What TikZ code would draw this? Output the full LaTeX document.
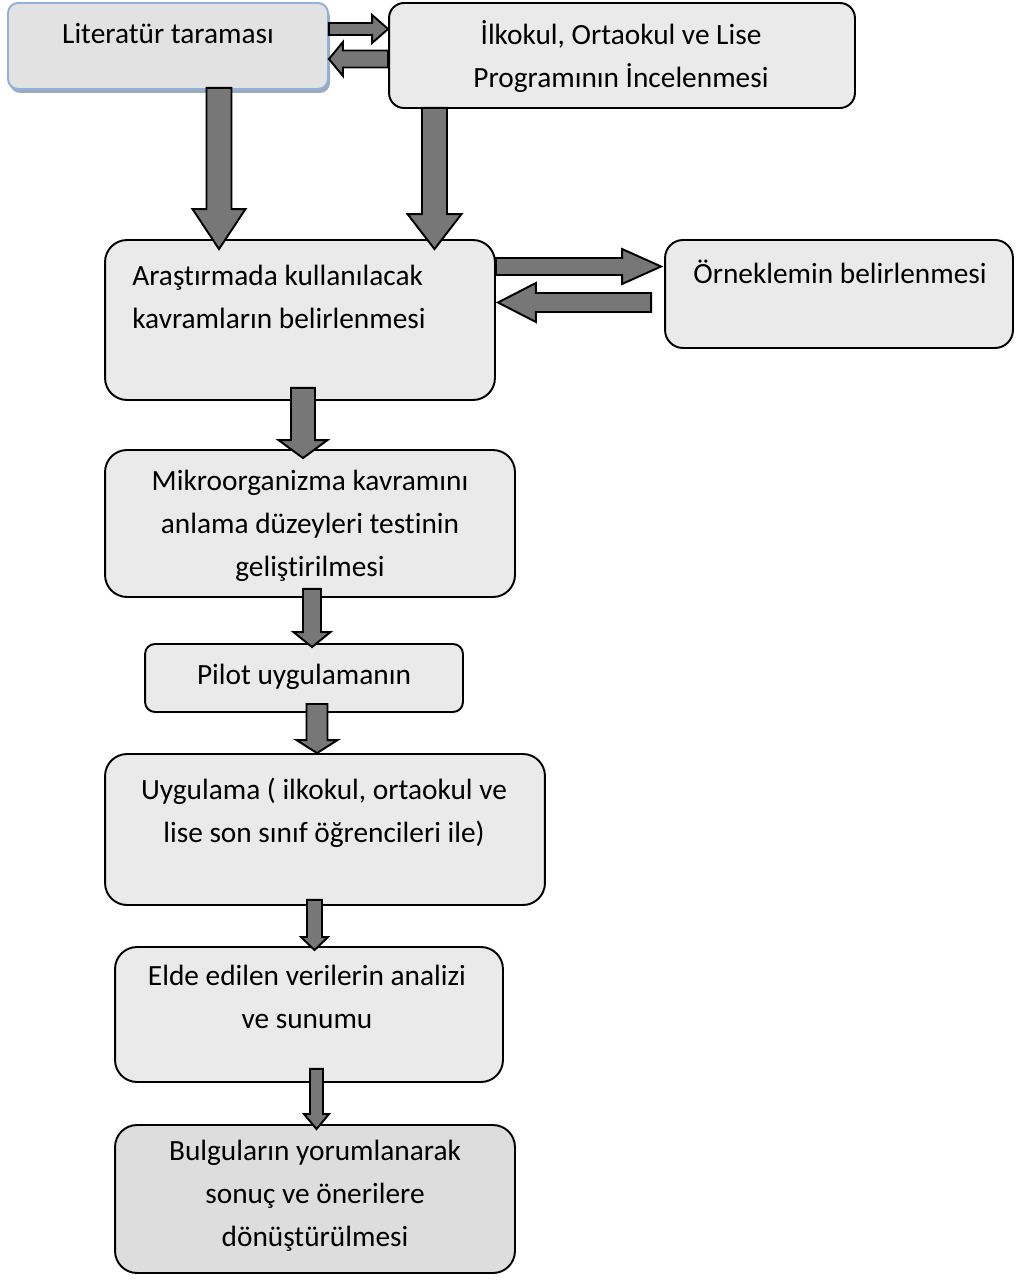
\documentclass[tikz,border=0pt]{standalone}
\usepackage{fontspec}
\setmainfont{Carlito}[Ligatures={TeX,NoCommon}]
\usetikzlibrary{calc}

\definecolor{boxfill}{HTML}{EAEAEA}
\definecolor{litfill}{HTML}{E2E2E2}
\definecolor{lastfill}{HTML}{DDDDDD}
\definecolor{litline}{HTML}{8FB0DA}
\definecolor{litshadow}{HTML}{9EA9BA}
\definecolor{arrowfill}{HTML}{777777}

\tikzset{
  stepbox/.style={draw=black, line width=1.1pt, fill=boxfill,
    rounded corners=0.44cm, inner sep=0pt},
  steptext/.style={font=\fontsize{16.7}{24.5}\selectfont, align=center,
    inner sep=0pt},
  blockarrow/.style={draw=black, line width=1.1pt, fill=arrowfill,
    line join=miter}
}

% block arrow: from, to, shaft half width, head half width, head length
\newcommand{\fatarrow}[5]{%
  \draw[blockarrow] let \p1=(#1), \p2=(#2),
      \n1={atan2(\y2-\y1,\x2-\x1)}, \n2={veclen(\x2-\x1,\y2-\y1)} in
    ($(\p1)+(\n1+90:#3)$) -- ($(\p1)+(\n1:\n2-#5)+(\n1+90:#3)$)
    -- ($(\p1)+(\n1:\n2-#5)+(\n1+90:#4)$) -- (\p2)
    -- ($(\p1)+(\n1:\n2-#5)+(\n1-90:#4)$)
    -- ($(\p1)+(\n1:\n2-#5)+(\n1-90:#3)$)
    -- ($(\p1)+(\n1-90:#3)$) -- cycle;}

\begin{document}
\begin{tikzpicture}[x=0.02cm, y=-0.02cm]
  \useasboundingbox (0,0) rectangle (1016,1284);

  % ---- the boxes ----
  \fill[litshadow, rounded corners=0.2cm] (10,7) rectangle (330,93);
  \node[stepbox, draw=litline, fill=litfill, rounded corners=0.2cm,
        minimum width=6.4cm, minimum height=1.72cm] (lit) at (168,46) {};
  \node[stepbox, rounded corners=0.3cm,
        minimum width=9.32cm, minimum height=2.1cm] (prog) at (622,55.5) {};
  \node[stepbox, minimum width=7.8cm, minimum height=3.2cm] (aras) at (300,320) {};
  \node[stepbox, rounded corners=0.36cm,
        minimum width=6.96cm, minimum height=2.16cm] (ornek) at (839,294) {};
  \node[stepbox, minimum width=8.2cm, minimum height=2.94cm] (mikro) at (310,523.5) {};
  \node[stepbox, rounded corners=0.2cm,
        minimum width=6.36cm, minimum height=1.36cm] (pilot) at (304,678) {};
  \node[stepbox, minimum width=8.8cm, minimum height=3.02cm] (uyg) at (325,829.5) {};
  \node[stepbox, minimum width=7.76cm, minimum height=2.7cm] (elde) at (309,1014.5) {};
  \node[stepbox, fill=lastfill,
        minimum width=8.0cm, minimum height=2.96cm] (bulg) at (315,1199) {};

  % ---- the texts, set near the top of their boxes ----
  \node[steptext] (lit-t) at (168,34) {Literatür taraması};
  \node[steptext] (prog-t) at (621,57)
       {İlkokul, Ortaokul ve Lise\\Programının İncelenmesi};
  \node[steptext, align=left, anchor=west] (aras-t) at (132,297)
       {Araştırmada kullanılacak\\kavramların belirlenmesi};
  \node[steptext] (ornek-t) at (840,272) {Örneklemin belirlenmesi};
  \node[steptext] (mikro-t) at (310,526)
       {Mikroorganizma kavramını\\anlama düzeyleri testinin\\geliştirilmesi};
  \node[steptext] (pilot-t) at (304,677) {Pilot uygulamanın};
  \node[steptext] (uyg-t) at (324,813)
       {Uygulama ( ilkokul, ortaokul ve\\lise son sınıf öğrencileri ile)};
  \node[steptext] (elde-t) at (307,997)
       {Elde edilen verilerin analizi\\ve sunumu};
  \node[steptext] (bulg-t) at (315,1196)
       {Bulguların yorumlanarak\\sonuç ve önerilere\\dönüştürülmesi};

  % ---- the block arrows between the boxes ----
  \fatarrow{$(lit.east)+(0,-17)$}{$(prog.west)+(0,-26.5)$}{0.12cm}{0.28cm}{0.32cm}
  \fatarrow{$(prog.west)+(0,3.5)$}{$(lit.east)+(0,13)$}{0.17cm}{0.34cm}{0.28cm}
  \fatarrow{$(lit.south)+(51,-2)$}{$(aras.north)+(-81,10)$}{0.25cm}{0.53cm}{0.8cm}
  \fatarrow{$(prog.south)+(-187.5,-1)$}{$(aras.north)+(134.5,10)$}{0.25cm}{0.54cm}{0.7cm}
  \fatarrow{$(aras.east)+(0,-53.5)$}{$(ornek.west)+(-3,-27.5)$}{0.17cm}{0.35cm}{0.78cm}
  \fatarrow{$(ornek.west)+(-13,8.5)$}{$(aras.east)+(2,-17.5)$}{0.19cm}{0.39cm}{0.76cm}
  \fatarrow{$(aras.south)+(3,-13)$}{$(mikro.north)+(-7,9)$}{0.24cm}{0.49cm}{0.36cm}
  \fatarrow{$(mikro.south)+(2,-9)$}{$(pilot.north)+(8,4)$}{0.18cm}{0.37cm}{0.3cm}
  \fatarrow{$(pilot.south)+(13,-9)$}{$(uyg.north)+(-8,0)$}{0.21cm}{0.41cm}{0.26cm}
  \fatarrow{$(uyg.south)+(-10.5,-6)$}{$(elde.north)+(5.5,4)$}{0.15cm}{0.27cm}{0.26cm}
  \fatarrow{$(elde.south)+(7.5,-14)$}{$(bulg.north)+(1.5,5)$}{0.13cm}{0.25cm}{0.3cm}
\end{tikzpicture}
\end{document}
